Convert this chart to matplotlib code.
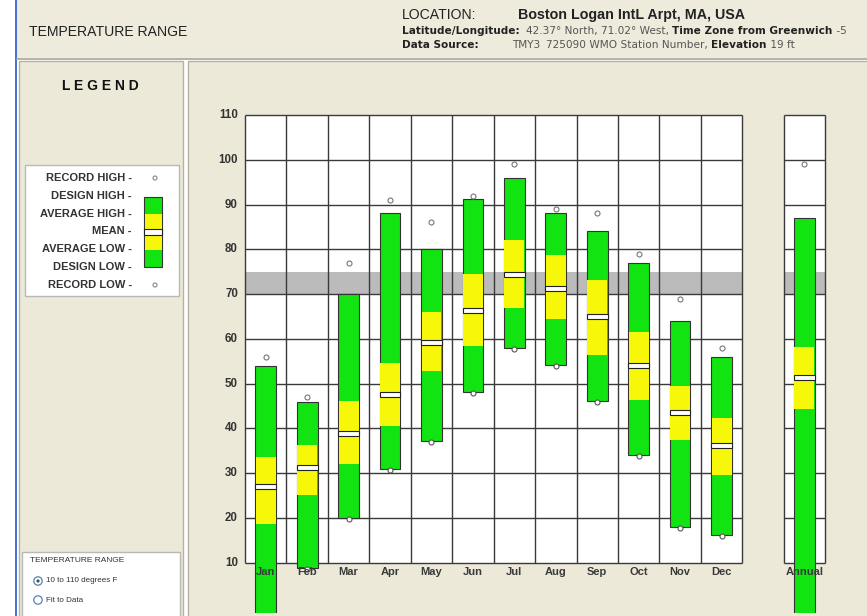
import matplotlib
matplotlib.use("Agg")
import matplotlib.pyplot as plt
from matplotlib.patches import Rectangle, Circle

# ---------------- data ----------------
months = ['Jan', 'Feb', 'Mar', 'Apr', 'May', 'Jun', 'Jul', 'Aug', 'Sep', 'Oct', 'Nov', 'Dec']
record_high = [56, 47, 77, 91, 86, 92, 99, 89, 88, 79, 69, 58]
design_high = [54, 46, 70, 88, 80, 91.2, 96, 88, 84, 77, 64, 56]
avg_high = [33.5, 36.2, 46.2, 54.5, 65.9, 74.5, 82, 78.8, 73.1, 61.5, 49.5, 42.4]
mean_temp = [27.0, 31.2, 38.9, 47.6, 59.2, 66.3, 74.4, 71.3, 65.0, 54.1, 43.5, 36.1]
avg_low = [18.6, 25.1, 32.0, 40.5, 52.8, 58.4, 66.9, 64.4, 56.4, 46.3, 37.4, 29.7]
design_low = [-4, 8.8, 20, 31, 37.1, 48.2, 58, 54.1, 46.1, 34, 17.9, 16.1]
record_low = [-8, 8.6, 19.8, 30.8, 36.9, 48.0, 57.8, 53.9, 45.9, 33.8, 17.7, 15.9]

annual_label = 'Annual'
annual_record_high = 99
annual_design_high = 87.1
annual_avg_high = 58.2
annual_mean = 51.3
annual_avg_low = 44.3
annual_design_low = -4
annual_record_low = -8

y_ticks = [10, 20, 30, 40, 50, 60, 70, 80, 90, 100, 110]
comfort_low, comfort_high = 70, 75

# ---------------- style ----------------
W, H = 867, 616
FONT = 'Liberation Sans'
SMALL = 'DejaVu Sans'
plt.rcParams['font.family'] = [FONT, 'DejaVu Sans']
BEIGE = '#ECE9D8'
GREEN = '#11E411'
YELLOW = '#F7F70A'
GRID = '#3a3a3a'
TXT = '#333333'

fig = plt.figure(figsize=(W / 100, H / 100), dpi=100)
fig.patch.set_facecolor('white')

bg = fig.add_axes([0, 0, 1, 1])
bg.set_xlim(0, W)
bg.set_ylim(H, 0)
bg.axis('off')

def rect(ax, x0, y0, x1, y1, fc, ec='none', lw=0, z=0):
    ax.add_patch(Rectangle((x0, y0), x1 - x0, y1 - y0, facecolor=fc, edgecolor=ec, lw=lw, zorder=z))

rect(bg, 0, 0, W, H, 'white')
rect(bg, 14.5, 0, 17, H, '#4a72d6', z=1)
rect(bg, 17, 0, W, 58, '#EEEBDD', z=1)
bg.plot([17, W], [58.5, 58.5], color='#A8A597', lw=1.2, zorder=2)
rect(bg, 19, 61, 183, H + 2, BEIGE, ec='#B5B2A4', lw=1.0, z=1)
rect(bg, 188, 61, W + 2, H + 2, BEIGE, ec='#B5B2A4', lw=1.0, z=1)

fig.canvas.draw()
renderer = fig.canvas.get_renderer()

def seq(x, y, parts, size):
    for s, weight, col, fam in parts:
        t = bg.text(x, y, s, fontsize=size, fontweight=weight, color=col, family=fam,
                    ha='left', va='center', zorder=5)
        x = t.get_window_extent(renderer=renderer).x1

DARK = '#222222'
GRAYT = '#555555'
SM = 7.6
bg.text(29, 32, 'TEMPERATURE RANGE', fontsize=10.1, color=DARK, ha='left', va='center', zorder=5)
bg.text(402, 15, 'LOCATION:', fontsize=10.1, color=DARK, ha='left', va='center', zorder=5)
bg.text(518, 15, 'Boston Logan IntL Arpt, MA, USA', fontsize=10.3, fontweight='bold',
        color=DARK, ha='left', va='center', zorder=5)
bg.text(402, 31, 'Latitude/Longitude:', fontsize=SM, fontweight='bold', color=DARK,
        family=SMALL, ha='left', va='center', zorder=5)
bg.text(402, 45, 'Data Source:', fontsize=SM, fontweight='bold', color=DARK,
        family=SMALL, ha='left', va='center', zorder=5)
seq(526, 31, [('42.37\u00b0 North, 71.02\u00b0 West, ', 'normal', GRAYT, SMALL),
              ('Time Zone from Greenwich', 'bold', DARK, SMALL),
              (' -5', 'normal', GRAYT, SMALL)], SM)
bg.text(512, 45, 'TMY3', fontsize=SM, color=GRAYT, family=SMALL, ha='left', va='center', zorder=5)
seq(546, 45, [('725090 WMO Station Number, ', 'normal', GRAYT, SMALL),
              ('Elevation', 'bold', DARK, SMALL),
              (' 19 ft', 'normal', GRAYT, SMALL)], SM)

# legend panel
bg.text(100, 86, 'L E G E N D', fontsize=10, fontweight='bold', color='#111111',
        ha='center', va='center', zorder=5)
rect(bg, 25, 165, 179, 296, 'white', ec='#B8B8B8', lw=1.0, z=3)
leg_labels = ['RECORD HIGH -', 'DESIGN HIGH -', 'AVERAGE HIGH -', 'MEAN -',
              'AVERAGE LOW -', 'DESIGN LOW -', 'RECORD LOW -']
for k, lab in enumerate(leg_labels):
    bg.text(132, 178 + k * 17.8, lab, fontsize=8, fontweight='bold', color=TXT,
            ha='right', va='center', zorder=5)
rect(bg, 144, 197, 162, 267, GREEN, ec='#333333', lw=0.8, z=4)
rect(bg, 144.5, 214, 161.5, 250, YELLOW, z=5)
rect(bg, 144, 229, 162, 235, 'white', ec='#222222', lw=0.8, z=6)
for yy in (178, 285):
    bg.add_patch(Circle((155, yy), 2.0, facecolor='white', edgecolor='#888888', lw=0.8, zorder=6))

# radio box
rect(bg, 22, 552, 180, H + 2, 'white', ec='#B8B8B8', lw=1.0, z=3)
bg.text(30, 561, 'TEMPERATURE RANGE', fontsize=6, color='#333333', ha='left', va='center', zorder=5)
for yy, lab in [(581, '10 to 110 degrees F'), (600, 'Fit to Data')]:
    bg.add_patch(Circle((38, yy), 4.2, facecolor='white', edgecolor='#5a7fb8', lw=0.9, zorder=5))
    bg.text(46, yy, lab, fontsize=5.8, color='#333333', ha='left', va='center', zorder=5)
bg.add_patch(Circle((38, 581), 1.6, facecolor='#2a6a2a', edgecolor='none', zorder=6))

# ---------------- chart axes ----------------
x_left, x_right = 245.0, 245.0 + 14 * 41.44
y_top, y_bot = 115.0, 613.0
px_per_deg = 4.477
ymax = 110
ymin = ymax - (y_bot - y_top) / px_per_deg
ax = fig.add_axes([x_left / W, (H - y_bot) / H, (x_right - x_left) / W, (y_bot - y_top) / H])
ax.set_xlim(0, 14)
ax.set_ylim(ymin, ymax)
ax.axis('off')
ax.patch.set_alpha(0)

panels = [(0, 12), (13, 14)]
for a, b in panels:
    ax.add_patch(Rectangle((a, y_ticks[0]), b - a, y_ticks[-1] - y_ticks[0],
                           facecolor='white', edgecolor='none', zorder=0))
    ax.add_patch(Rectangle((a, comfort_low), b - a, comfort_high - comfort_low,
                           facecolor='#BBBBBB', edgecolor='none', zorder=1))
    for v in y_ticks:
        ax.plot([a, b], [v, v], color=GRID, lw=1.0, zorder=2, solid_capstyle='butt', clip_on=False)
    for xv in range(a, b + 1):
        ax.plot([xv, xv], [y_ticks[0], y_ticks[-1]], color=GRID, lw=1.0, zorder=2,
                solid_capstyle='butt', clip_on=False)

for v in y_ticks:
    ax.text(-0.17, v, str(v), fontsize=8.3, fontweight='bold', color=TXT,
            ha='right', va='center', zorder=2)

def draw_bar(xc, rh, dh, ah, mn, al, dl, rl, label):
    w = 0.5
    ax.text(xc, 7.9, label, fontsize=8, fontweight='bold', color='#3a3a3a',
            ha='center', va='center', zorder=6)
    ax.add_patch(Rectangle((xc - w / 2, dl), w, dh - dl, facecolor=GREEN,
                           edgecolor='#333333', lw=0.8, zorder=3))
    ax.add_patch(Rectangle((xc - w / 2 + 0.01, al), w - 0.02, ah - al, facecolor=YELLOW,
                           edgecolor='none', zorder=3.5))
    ax.add_patch(Rectangle((xc - w / 2, mn - 0.55), w, 1.1, facecolor='white',
                           edgecolor='#222222', lw=0.8, zorder=4))
    ax.plot([xc], [rh], marker='o', ms=3.6, mfc='white', mec='#777777', mew=0.8, zorder=5)
    ax.plot([xc], [rl], marker='o', ms=3.6, mfc='white', mec='#555555', mew=0.8, zorder=5)

for i, m in enumerate(months):
    draw_bar(i + 0.5, record_high[i], design_high[i], avg_high[i], mean_temp[i],
             avg_low[i], design_low[i], record_low[i], m)

draw_bar(13.5, annual_record_high, annual_design_high, annual_avg_high, annual_mean,
         annual_avg_low, annual_design_low, annual_record_low, annual_label)

fig.savefig('out.png', dpi=100)
